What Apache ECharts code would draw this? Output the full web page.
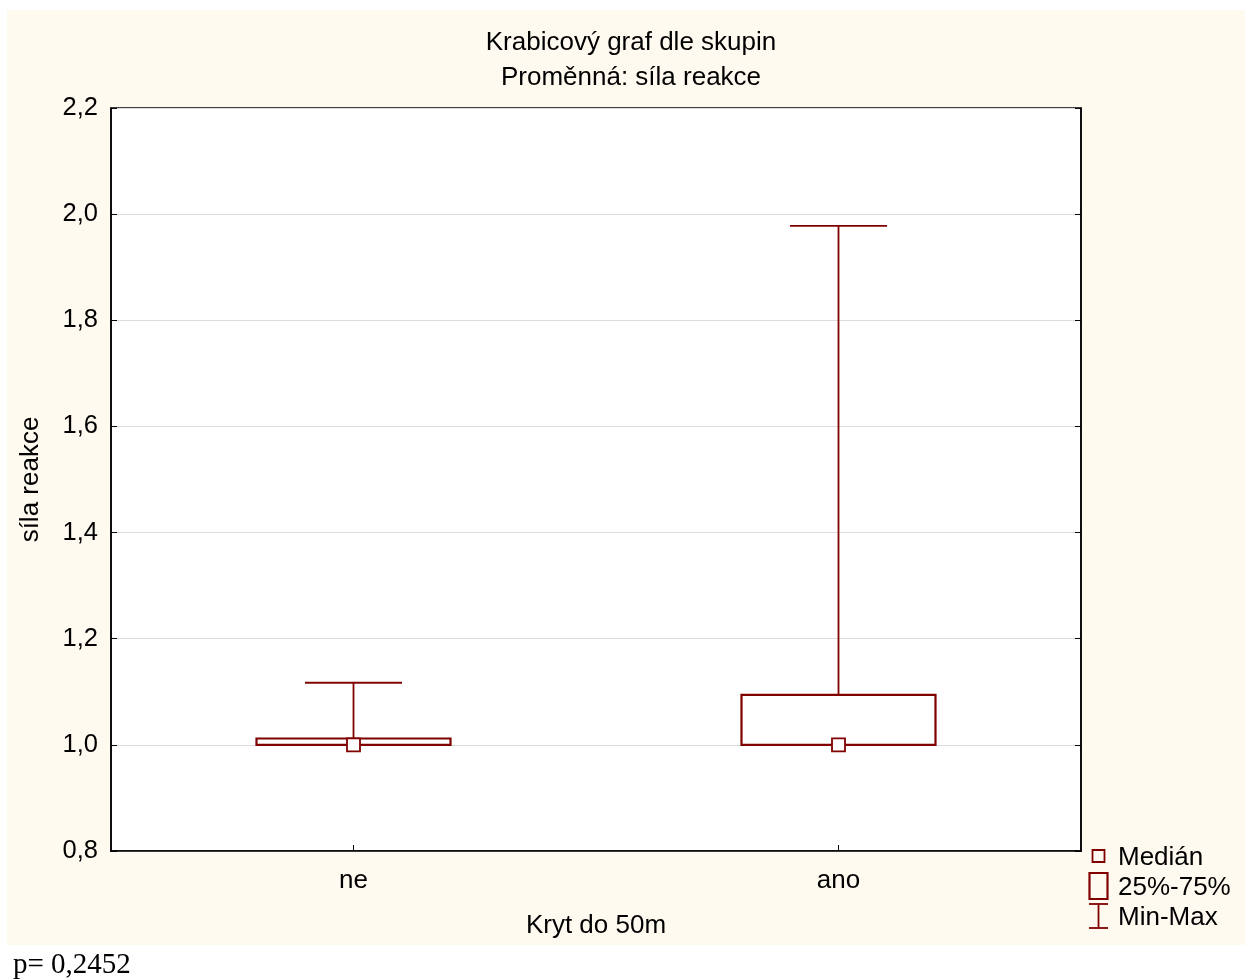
<!DOCTYPE html>
<html>
<head>
<meta charset="utf-8">
<script src="https://cdn.jsdelivr.net/npm/echarts@6/dist/echarts.min.js"></script>
<style>
html,body{margin:0;padding:0;background:#fff;}
#chart{width:1246px;height:979px;}
</style>
</head>
<body>
<div id="chart"></div>
<script>
// ---- data ----
var categories = ['ne', 'ano'];
var minVals    = [1.0, 1.0];
var q1Vals     = [1.0, 1.0];
var medianVals = [1.0, 1.0];
var q3Vals     = [1.012, 1.094];
var maxVals    = [1.117, 1.978];
var yTicks     = [0.8, 1.0, 1.2, 1.4, 1.6, 1.8, 2.0, 2.2];
var titleLines = ['Krabicový graf dle skupin', 'Proměnná: síla reakce'];
var legendNames = ['Medián', '25%-75%', 'Min-Max'];
var pText = 'p= 0,2452';

var RED = '#800000';
var FONT = '"Liberation Sans", Arial, sans-serif';
var FS = 26;

var seriesData = categories.map(function (c, i) {
  return [i, minVals[i], q1Vals[i], medianVals[i], q3Vals[i], maxVals[i]];
});

function fmt(v) { return v.toFixed(1).replace('.', ','); }

function renderItem(params, api) {
  var idx = api.value(0);
  var band = api.size([1, 0])[0];
  var boxW = band * 0.4;
  var capW = band * 0.2;
  var pMin = api.coord([idx, api.value(1)]);
  var pQ1 = api.coord([idx, api.value(2)]);
  var pMed = api.coord([idx, api.value(3)]);
  var pQ3 = api.coord([idx, api.value(4)]);
  var pMax = api.coord([idx, api.value(5)]);
  var x = pMed[0];
  var lineStyle = { stroke: RED, lineWidth: 1.8, fill: null };
  var ms = 13;
  return {
    type: 'group',
    children: [
      { type: 'line', shape: { x1: x, y1: pMax[1], x2: x, y2: pQ3[1] }, style: lineStyle },
      { type: 'line', shape: { x1: x - capW / 2, y1: pMax[1], x2: x + capW / 2, y2: pMax[1] }, style: lineStyle },
      { type: 'line', shape: { x1: x, y1: pMin[1], x2: x, y2: pQ1[1] }, style: lineStyle },
      { type: 'line', shape: { x1: x - capW / 2, y1: pMin[1], x2: x + capW / 2, y2: pMin[1] }, style: lineStyle },
      { type: 'rect', shape: { x: x - boxW / 2, y: pQ3[1], width: boxW, height: pQ1[1] - pQ3[1] },
        style: { stroke: RED, lineWidth: 2.2, fill: '#fff' } },
      { type: 'rect', shape: { x: x - ms / 2, y: pMed[1] - ms / 2, width: ms, height: ms },
        style: { stroke: RED, lineWidth: 1.8, fill: '#fff' } }
    ]
  };
}

var chart = echarts.init(document.getElementById('chart'), null, { renderer: 'canvas' });

var legendX = 1098.5, legendTextX = 1118;
var legendY = [856, 886, 916];

chart.setOption({
  animation: false,
  backgroundColor: '#fff',
  title: {
    text: titleLines.join('\n'),
    left: 626, top: 20, textAlign: 'center',
    textStyle: { fontFamily: FONT, fontSize: 26, fontWeight: 'normal', color: '#000', lineHeight: 35 }
  },
  graphic: [
    { type: 'rect', z: -10, silent: true, shape: { x: 7, y: 10, width: 1238, height: 935 }, style: { fill: '#FFFAF0' } },
    { type: 'text', left: 13, top: 951, style: { text: pText, font: '29px "Liberation Serif", "Times New Roman", serif', fill: '#000' } },
    // legend
    { type: 'rect', shape: { x: legendX - 6, y: legendY[0] - 6, width: 12, height: 12 }, style: { stroke: RED, lineWidth: 1.8, fill: 'none' } },
    { type: 'rect', shape: { x: legendX - 9, y: legendY[1] - 13, width: 18, height: 26 }, style: { stroke: RED, lineWidth: 2.2, fill: 'none' } },
    { type: 'line', shape: { x1: legendX, y1: legendY[2] - 12, x2: legendX, y2: legendY[2] + 12 }, style: { stroke: RED, lineWidth: 1.8 } },
    { type: 'line', shape: { x1: legendX - 9.5, y1: legendY[2] - 12, x2: legendX + 9.5, y2: legendY[2] - 12 }, style: { stroke: RED, lineWidth: 1.8 } },
    { type: 'line', shape: { x1: legendX - 9.5, y1: legendY[2] + 12, x2: legendX + 9.5, y2: legendY[2] + 12 }, style: { stroke: RED, lineWidth: 1.8 } },
    { type: 'text', x: legendTextX, y: legendY[0] + 2, style: { text: legendNames[0], font: FS + 'px ' + FONT, fill: '#000', verticalAlign: 'middle' } },
    { type: 'text', x: legendTextX, y: legendY[1] + 2, style: { text: legendNames[1], font: FS + 'px ' + FONT, fill: '#000', verticalAlign: 'middle' } },
    { type: 'text', x: legendTextX, y: legendY[2] + 2, style: { text: legendNames[2], font: FS + 'px ' + FONT, fill: '#000', verticalAlign: 'middle' } }
  ],
  grid: {
    left: 111, top: 108, width: 970, height: 743,
    show: true, backgroundColor: '#fff', borderColor: '#000', borderWidth: 1.5
  },
  xAxis: [{
    type: 'category', data: categories, position: 'bottom',
    name: 'Kryt do 50m', nameLocation: 'middle', nameGap: 62,
    nameTextStyle: { fontFamily: FONT, fontSize: FS, color: '#000' },
    axisLine: { show: true, lineStyle: { color: '#000', width: 1.5 } },
    axisTick: { show: true, inside: true, alignWithLabel: true, length: 6, lineStyle: { color: '#000' } },
    axisLabel: { fontFamily: FONT, fontSize: FS, color: '#000', margin: 17 },
    splitLine: { show: false }
  }],
  yAxis: [{
    type: 'value', min: yTicks[0], max: yTicks[yTicks.length - 1], interval: 0.2,
    name: 'síla reakce', nameLocation: 'middle', nameGap: 67,
    nameTextStyle: { fontFamily: FONT, fontSize: FS, color: '#000' },
    axisLine: { show: true, lineStyle: { color: '#000', width: 1.5 } },
    axisTick: { show: true, inside: true, length: 6, lineStyle: { color: '#000' } },
    axisLabel: { fontFamily: FONT, fontSize: 25.5, color: '#000', margin: 13, formatter: fmt, padding: [3, 0, 0, 0] },
    splitLine: { show: true, lineStyle: { color: '#dddddd', width: 1 } }
  }, {
    type: 'value', min: yTicks[0], max: yTicks[yTicks.length - 1], interval: 0.2, position: 'right',
    axisLine: { show: true, lineStyle: { color: '#000', width: 1.5 } },
    axisTick: { show: true, inside: true, length: 6, lineStyle: { color: '#000' } },
    axisLabel: { show: false },
    splitLine: { show: false }
  }],
  series: [{
    type: 'custom',
    renderItem: renderItem,
    encode: { x: 0, y: [1, 2, 3, 4, 5] },
    data: seriesData,
    z: 10
  }]
});
</script>
</body>
</html>
